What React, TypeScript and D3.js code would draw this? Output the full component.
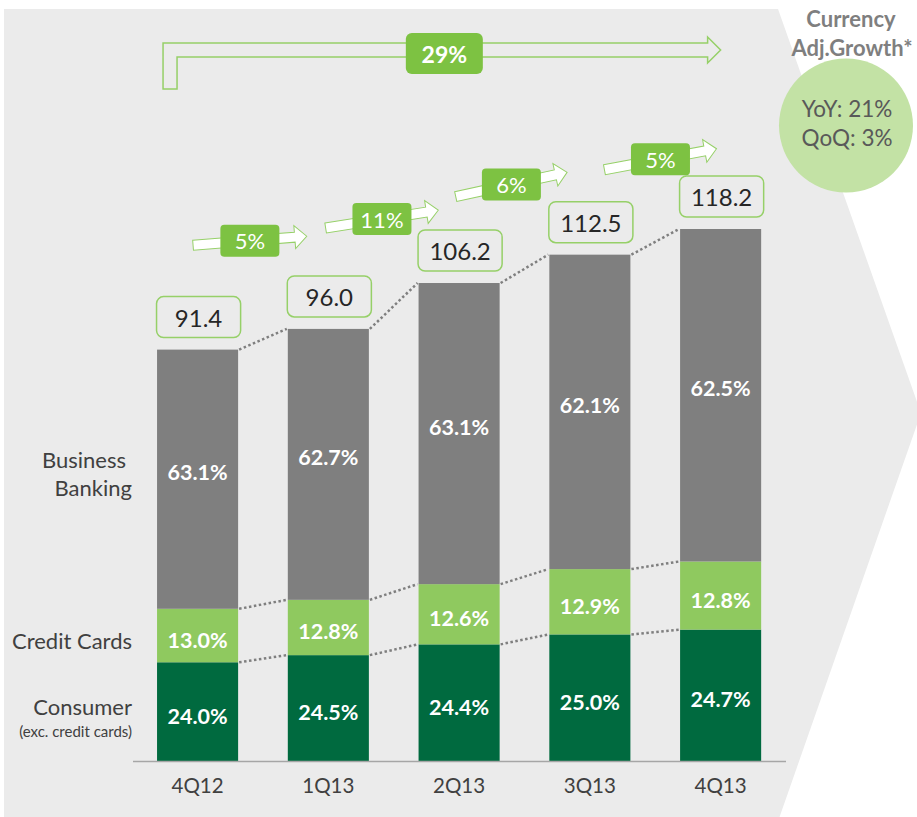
import React from "react";
import * as d3 from "d3";

const categories = ["4Q12", "1Q13", "2Q13", "3Q13", "4Q13"];
const totals = [91.4, 96.0, 106.2, 112.5, 118.2];
const consumerPct = [24.0, 24.5, 24.4, 25.0, 24.7];
const creditPct = [13.0, 12.8, 12.6, 12.9, 12.8];
const businessPct = [63.1, 62.7, 63.1, 62.1, 62.5];
const qoqGrowth = ["5%", "11%", "6%", "5%"];
const totalGrowth = "29%";
const yoyText = "YoY: 21%";
const qoqText = "QoQ: 3%";

const W = 917;
const H = 817;
const FONT = "Lato, 'Open Sans', sans-serif";

const C_BUS = "#7f7f7f";
const C_CC = "#8fc95f";
const C_CON = "#006a3f";
const C_BOX = "#7dc242";
const C_OUT = "#96d068";
const BG = "#ebebeb";

// layout for the QoQ arrows (fraction of step past bar center, level, angle)
const arrowShift = [0.4, 0.41, 0.4, 0.54];
const arrowLevel = [115.6, 120.4, 128.1, 133.7];
const arrowAngle = [-4.5, -9, -12.3, -10.6];

export default function App() {
  const x = d3
    .scaleBand<string>()
    .domain(categories)
    .range([132.2, 786])
    .paddingInner(0.38)
    .paddingOuter(0.19);
  const y = d3.scaleLinear().domain([0, 118.2]).range([761, 229]);
  const bw = x.bandwidth();
  const step = x.step();

  const stacks = categories.map((c, i) => {
    const t = totals[i];
    const con = (t * consumerPct[i]) / 100;
    const cc = (t * creditPct[i]) / 100;
    return {
      c,
      x0: x(c) as number,
      segs: [
        { y0: 0, y1: con, color: C_CON, label: consumerPct[i].toFixed(1) + "%", dy: 4 },
        { y0: con, y1: con + cc, color: C_CC, label: creditPct[i].toFixed(1) + "%", dy: 4 },
        { y0: con + cc, y1: t, color: C_BUS, label: businessPct[i].toFixed(1) + "%", dy: -7 },
      ],
    };
  });

  const panel = [
    [4, 9],
    [778, 9],
    [921, 413],
    [775, 830],
    [4, 830],
  ];

  const arrowPath = (L: number) => {
    const h = L / 2;
    return `M${-h},-5 L${h - 12},-5 L${h - 12},-11.5 L${h},0 L${h - 12},11.5 L${h - 12},5 L${-h},5 Z`;
  };

  // big bent arrow
  const bx0 = (x(categories[0]) as number) + 6;
  const bx1 = bx0 + 14;
  const tip = (x(categories[4]) as number) + bw / 2;
  const bigPath = `M${bx0},89 L${bx0},43 L${tip - 13},43 L${tip - 13},37 L${tip},50 L${tip - 13},63 L${tip - 13},57 L${bx1},57 L${bx1},89 Z`;

  const first = stacks[0];
  const segMid = (s: { y0: number; y1: number }) => (y(s.y0) + y(s.y1)) / 2;

  return (
    <svg
      width={W}
      height={H}
      style={{ position: "absolute", left: 0, top: 0, display: "block" }}
      fontFamily={FONT}
    >
      <rect width={W} height={H} fill="#ffffff" />
      <polygon points={panel.map((p) => p.join(",")).join(" ")} fill={BG} />

      {/* bars */}
      {stacks.map((s) =>
        s.segs.map((g, j) => (
          <rect
            key={s.c + j}
            x={s.x0}
            y={y(g.y1)}
            width={bw}
            height={y(g.y0) - y(g.y1)}
            fill={g.color}
          />
        ))
      )}

      {/* dotted connectors */}
      {stacks.slice(0, -1).map((s, i) =>
        [0, 1, 2].map((j) => {
          const a = s.segs[j].y1;
          const b = stacks[i + 1].segs[j].y1;
          return (
            <line
              key={"d" + i + j}
              x1={s.x0 + bw + 1}
              y1={y(a)}
              x2={stacks[i + 1].x0 - 1}
              y2={y(b)}
              stroke="#7f7f7f"
              strokeWidth={2.5}
              strokeDasharray="2.5 2.5"
            />
          );
        })
      )}

      {/* axis line */}
      <line x1={133} x2={786} y1={y(0) + 0.5} y2={y(0) + 0.5} stroke="#a6a6a6" strokeWidth={1.5} />

      {/* segment labels */}
      {stacks.map((s) =>
        s.segs.map((g, j) => (
          <text
            key={"l" + s.c + j}
            x={s.x0 + bw / 2}
            y={segMid(g) + g.dy}
            textAnchor="middle"
            dominantBaseline="central"
            fill="#ffffff"
            fontWeight="bold"
            fontSize={21.5}
          >
            {g.label}
          </text>
        ))
      )}

      {/* category labels */}
      {categories.map((c) => (
        <text
          key={"c" + c}
          x={(x(c) as number) + bw / 2}
          y={785}
          textAnchor="middle"
          dominantBaseline="central"
          fill="#404040"
          fontSize={20.5}
        >
          {c}
        </text>
      ))}

      {/* total boxes */}
      {stacks.map((s, i) => (
        <g key={"t" + s.c}>
          <rect
            x={s.x0 - 0.5}
            y={y(totals[i]) - 12 - 41}
            width={bw + 3}
            height={41}
            rx={7}
            fill={BG}
            stroke={C_OUT}
            strokeWidth={1.5}
          />
          <text
            x={s.x0 + bw / 2 + 1}
            y={y(totals[i]) - 12 - 20.5}
            textAnchor="middle"
            dominantBaseline="central"
            fill="#262626"
            fontSize={24}
          >
            {totals[i].toFixed(1)}
          </text>
        </g>
      ))}

      {/* left series labels */}
      <g fill="#404040" fontSize={22} textAnchor="end">
        <text x={126} y={segMid(first.segs[2]) - 20} dominantBaseline="central">Business</text>
        <text x={132} y={segMid(first.segs[2]) + 8} dominantBaseline="central">Banking</text>
        <text x={132} y={segMid(first.segs[1]) + 4.5} dominantBaseline="central">Credit Cards</text>
        <text x={132} y={segMid(first.segs[0]) - 5} dominantBaseline="central">Consumer</text>
        <text x={132} y={segMid(first.segs[0]) + 19} dominantBaseline="central" fontSize={15}>
          (exc. credit cards)
        </text>
      </g>

      {/* QoQ arrows */}
      {qoqGrowth.map((g, i) => {
        const cx = (x(categories[i]) as number) + bw / 2 + arrowShift[i] * step;
        const cy = y(arrowLevel[i]);
        return (
          <g key={"a" + i}>
            <path
              d={arrowPath(114)}
              transform={`translate(${cx},${cy}) rotate(${arrowAngle[i]})`}
              fill="#ffffff"
              stroke={C_OUT}
              strokeWidth={1}
            />
            <rect x={cx - 29.5} y={cy - 16} width={59} height={32} rx={4} fill={C_BOX} />
            <text
              x={cx}
              y={cy}
              textAnchor="middle"
              dominantBaseline="central"
              fill="#ffffff"
              fontSize={22}
            >
              {g}
            </text>
          </g>
        );
      })}

      {/* big 29% arrow */}
      <path d={bigPath} fill={BG} stroke={C_OUT} strokeWidth={1.5} />
      <rect x={(bx0 + tip) / 2 - 36} y={33} width={77} height={41} rx={6} fill={C_BOX} />
      <text
        x={(bx0 + tip) / 2 + 2.5}
        y={54}
        textAnchor="middle"
        dominantBaseline="central"
        fill="#ffffff"
        fontWeight="bold"
        fontSize={23}
      >
        {totalGrowth}
      </text>

      {/* currency adjusted growth */}
      <text x={851} y={18} textAnchor="middle" dominantBaseline="central" fill="#7f7f7f" fontWeight="bold" fontSize={22}>
        Currency
      </text>
      <text x={852} y={47} textAnchor="middle" dominantBaseline="central" fill="#7f7f7f" fontWeight="bold" fontSize={22}>
        Adj.Growth*
      </text>
      <circle cx={846} cy={125.5} r={67} fill="#c3e2a5" />
      <text x={847} y={108} textAnchor="middle" dominantBaseline="central" fill="#595959" fontSize={22.5}>
        {yoyText}
      </text>
      <text x={847} y={137} textAnchor="middle" dominantBaseline="central" fill="#595959" fontSize={22.5}>
        {qoqText}
      </text>
    </svg>
  );
}
